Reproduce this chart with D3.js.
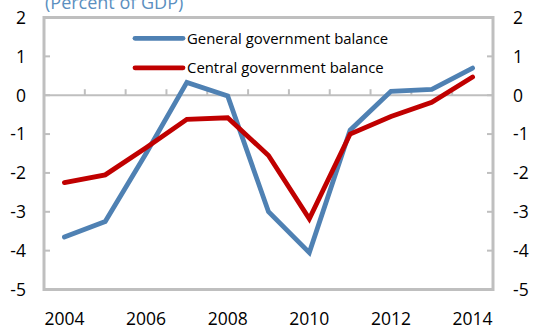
<!DOCTYPE html>
<html>
<head>
<meta charset="utf-8">
<script src="https://cdn.jsdelivr.net/npm/d3@7"></script>
<style>
  body { margin: 0; background: #fff; }
  text { font-family: "Open Sans", sans-serif; fill: #000; }
</style>
</head>
<body>
<div id="chart"></div>
<script>
var years = [2004, 2005, 2006, 2007, 2008, 2009, 2010, 2011, 2012, 2013, 2014];
var generalBalance = [-3.65, -3.25, -1.5, 0.33, -0.02, -3.0, -4.05, -0.9, 0.1, 0.15, 0.7];
var centralBalance = [-2.25, -2.05, -1.35, -0.62, -0.58, -1.55, -3.18, -1.0, -0.55, -0.18, 0.47];
var yTicks = [2, 1, 0, -1, -2, -3, -4, -5];
var xLabels = [2004, 2006, 2008, 2010, 2012, 2014];
var seriesNames = ["General government balance", "Central government balance"];
var title = "(Percent of GDP)";

var W = 535, H = 327,
    plotLeft = 44, plotRight = 493, plotTop = 17.5, plotBottom = 289.5,
    axisColor = "#bfbfbf",
    colors = ["#4f81b3", "#c00000"];

var svg = d3.select("#chart").append("svg")
    .attr("width", W)
    .attr("height", H);

var x = d3.scaleBand().domain(years).range([plotLeft, plotRight]).padding(0);
var y = d3.scaleLinear().domain([-5, 2]).range([plotBottom, plotTop]);
var cx = function(d) { return x(d) + x.bandwidth() / 2; };

/* title, cut at the top like the original */
svg.append("text")
  .attr("x", 45)
  .attr("y", 9)
  .style("font-size", "18px")
  .style("fill", "#5b8fc0")
  .text(title);

/* frame */
svg.append("rect")
  .attr("x", plotLeft)
  .attr("y", plotTop)
  .attr("width", plotRight - plotLeft)
  .attr("height", plotBottom - plotTop)
  .style("fill", "none")
  .style("stroke", axisColor)
  .style("stroke-width", 3);

/* zero line with category ticks */
svg.append("line")
  .attr("x1", plotLeft).attr("x2", plotRight)
  .attr("y1", y(0)).attr("y2", y(0))
  .style("stroke", axisColor)
  .style("stroke-width", 2);

svg.selectAll(".xtick")
  .data(years.slice(1))
  .enter().append("line")
  .attr("class", "xtick")
  .attr("x1", function(d) { return x(d); })
  .attr("x2", function(d) { return x(d); })
  .attr("y1", y(0))
  .attr("y2", y(0) - 6)
  .style("stroke", axisColor)
  .style("stroke-width", 2);

/* y ticks, both sides pointing in */
svg.selectAll(".ytickL")
  .data(yTicks.slice(1, -1))
  .enter().append("line")
  .attr("x1", plotLeft).attr("x2", plotLeft + 6)
  .attr("y1", function(d) { return y(d); })
  .attr("y2", function(d) { return y(d); })
  .style("stroke", axisColor)
  .style("stroke-width", 2);

svg.selectAll(".ytickR")
  .data(yTicks.slice(1, -1))
  .enter().append("line")
  .attr("x1", plotRight).attr("x2", plotRight - 6)
  .attr("y1", function(d) { return y(d); })
  .attr("y2", function(d) { return y(d); })
  .style("stroke", axisColor)
  .style("stroke-width", 2);

/* y labels */
svg.selectAll(".ylabelL")
  .data(yTicks)
  .enter().append("text")
  .attr("x", 26)
  .attr("y", function(d) { return y(d); })
  .attr("dy", "0.36em")
  .attr("text-anchor", "end")
  .style("font-size", "17.5px")
  .text(function(d) { return d; });

svg.selectAll(".ylabelR")
  .data(yTicks)
  .enter().append("text")
  .attr("x", 513)
  .attr("y", function(d) { return y(d); })
  .attr("dy", "0.36em")
  .attr("text-anchor", "start")
  .style("font-size", "17.5px")
  .text(function(d) { return d; });

/* x labels */
svg.selectAll(".xlabel")
  .data(xLabels)
  .enter().append("text")
  .attr("x", cx)
  .attr("y", 325)
  .attr("text-anchor", "middle")
  .style("font-size", "17.5px")
  .text(function(d) { return d; });

/* lines */
var line = d3.line()
  .x(function(d, i) { return cx(years[i]); })
  .y(function(d) { return y(d); });

[generalBalance, centralBalance].forEach(function(series, i) {
  svg.append("path")
    .datum(series)
    .attr("d", line)
    .style("fill", "none")
    .style("stroke", colors[i])
    .style("stroke-width", 4.8)
    .style("stroke-linejoin", "miter")
    .style("stroke-linecap", "round");
});

/* legend */
var legend = svg.selectAll(".legend")
  .data(seriesNames)
  .enter().append("g")
  .attr("transform", function(d, i) { return "translate(135," + (38.3 + i * 29.5) + ")"; });

legend.append("line")
  .attr("x1", 0).attr("x2", 48)
  .style("stroke", function(d, i) { return colors[i]; })
  .style("stroke-width", 4.8)
  .style("stroke-linecap", "round");

legend.append("text")
  .attr("x", 52)
  .attr("dy", "0.35em")
  .style("font-size", "14.9px")
  .text(function(d) { return d; });
</script>
</body>
</html>
